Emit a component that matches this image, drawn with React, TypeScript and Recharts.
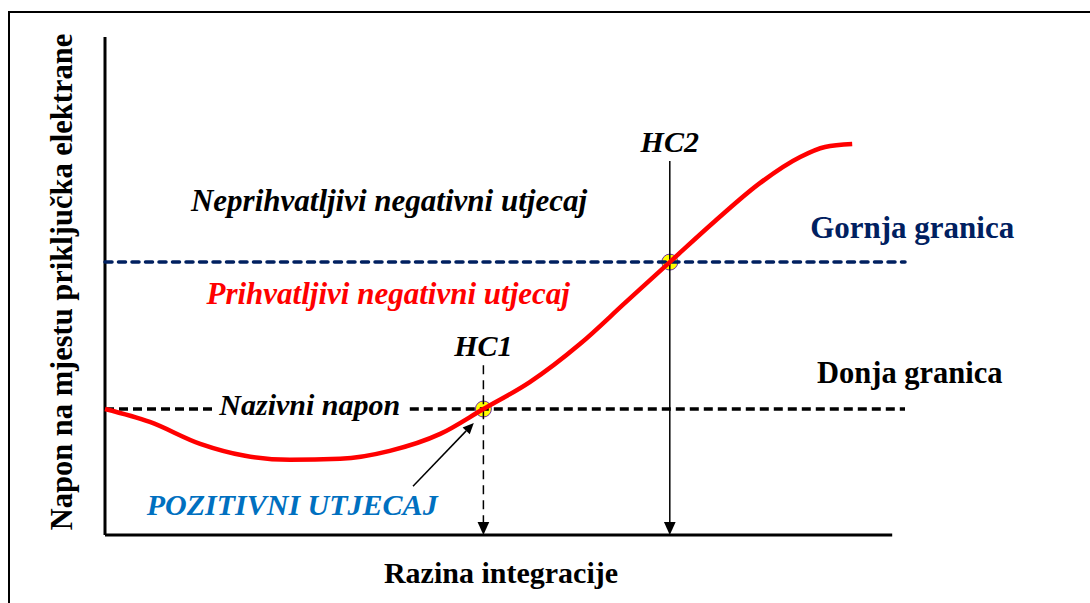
import { LineChart, Line, XAxis, YAxis, ReferenceLine, ReferenceDot } from "recharts";

// red curve: voltage at the connection point vs. integration level (arbitrary units)
const integrationLevel = [0, 5.6, 11.9, 17.5, 23.1, 29.4, 35.6, 41.9, 47.3, 53.1, 59.4, 65, 70.6, 76.3, 81.9, 86.9, 90, 93.4];
const voltage = [25.3, 22.7, 18.3, 15.9, 15.1, 15.3, 16.9, 20.3, 25.3, 30.7, 38.4, 46.6, 54.8, 63.1, 70.7, 75.9, 77.9, 78.5];

const NOMINAL = 25.3;
const UPPER = 54.8;
const HC1 = 47.3;
const HC2 = 70.6;

const data = integrationLevel.map((x, i) => ({ x, v: voltage[i] }));

const FONT = "Liberation Serif, Times New Roman, serif";
const NAVY = "#002060";

function arrow(head: number) {
  return (p: any) => {
    const { x1, y1, x2, y2, stroke, strokeWidth, strokeDasharray } = p;
    const a = Math.atan2(y2 - y1, x2 - x1);
    const bx = x2 - head * Math.cos(a);
    const by = y2 - head * Math.sin(a);
    const w = head * 0.45;
    const px = -Math.sin(a) * w;
    const py = Math.cos(a) * w;
    return (
      <g>
        <line x1={x1} y1={y1} x2={bx} y2={by} stroke={stroke} strokeWidth={strokeWidth} strokeDasharray={strokeDasharray} />
        <polygon points={`${x2},${y2} ${bx + px},${by + py} ${bx - px},${by - py}`} fill={stroke} />
      </g>
    );
  };
}

function note(key: string, x: number, y: number, text: string, color = "#000", italic = true, size = 30, rotate = false) {
  return (
    <ReferenceDot
      key={key}
      x={x}
      y={y}
      r={0}
      ifOverflow="visible"
      shape={(p: any) => (
        <text
          x={p.cx}
          y={p.cy}
          textAnchor="middle"
          fill={color}
          style={{ fontFamily: FONT, fontWeight: "bold", fontStyle: italic ? "italic" : "normal", fontSize: size }}
          transform={rotate ? `rotate(-90 ${p.cx} ${p.cy})` : undefined}
        >
          {text}
        </text>
      )}
    />
  );
}

export default function App() {
  return (
    <div style={{ position: "absolute", left: 0, top: 0, width: 1090, height: 603, overflow: "hidden", background: "#fff", fontFamily: FONT }}>
      <div style={{ position: "absolute", left: 8, top: 11, width: 1120, height: 640, border: "2px solid #000" }} />
      <div style={{ position: "absolute", left: 0, top: 0 }}>
        <LineChart width={1090} height={603} data={data} margin={{ top: 37, right: 185, bottom: 68, left: 105 }}>
          <XAxis type="number" dataKey="x" domain={[0, 100]} hide />
          <YAxis type="number" domain={[0, 100]} hide />

          <ReferenceDot x={HC1} y={NOMINAL} r={8} fill="#ffff00" stroke="#7030a0" strokeWidth={1} ifOverflow="visible" zIndex={-50} />
          <ReferenceDot x={HC2} y={UPPER} r={8} fill="#ffff00" stroke="#7030a0" strokeWidth={1} ifOverflow="visible" zIndex={-50} />

          <ReferenceLine segment={[{ x: 0, y: 0 }, { x: 0, y: 100 }]} stroke="#000" strokeWidth={3} ifOverflow="visible" />
          <ReferenceLine segment={[{ x: 0, y: 0 }, { x: 98.4, y: 0 }]} stroke="#000" strokeWidth={3} ifOverflow="visible" />

          <ReferenceLine segment={[{ x: 0, y: UPPER }, { x: 100, y: UPPER }]} stroke={NAVY} strokeWidth={3.5} strokeDasharray="7 6.5" strokeLinecap="round" ifOverflow="visible" />
          <ReferenceLine segment={[{ x: 0, y: NOMINAL }, { x: 13.4, y: NOMINAL }]} stroke="#000" strokeWidth={3.5} strokeDasharray="9 5" ifOverflow="visible" />
          <ReferenceLine segment={[{ x: 38.1, y: NOMINAL }, { x: 100, y: NOMINAL }]} stroke="#000" strokeWidth={3.5} strokeDasharray="9 5" ifOverflow="visible" />

          <ReferenceLine segment={[{ x: HC1, y: 34.1 }, { x: HC1, y: 0 }]} stroke="#000" strokeWidth={1.5} strokeDasharray="9 6" shape={arrow(13)} ifOverflow="visible" />
          <ReferenceLine segment={[{ x: HC2, y: 75.1 }, { x: HC2, y: 0 }]} stroke="#000" strokeWidth={1.5} shape={arrow(13)} ifOverflow="visible" />
          <ReferenceLine segment={[{ x: 38.5, y: 9.8 }, { x: 46.1, y: 22.5 }]} stroke="#000" strokeWidth={1.5} shape={arrow(11)} ifOverflow="visible" />

          <Line type="monotone" dataKey="v" stroke="#ff0000" strokeWidth={4.5} dot={false} isAnimationActive={false} />

          {note("n1", 35.5, 65.1, "Neprihvatljivi negativni utjecaj", "#000", true, 31)}
          {note("n2", 100.9, 59.6, "Gornja granica", NAVY, false, 31)}
          {note("n3", 35.4, 46.4, "Prihvatljivi negativni utjecaj", "#ff0000", true, 31)}
          {note("n4", HC1, 35.9, "HC1")}
          {note("n5", HC2, 76.9, "HC2")}
          {note("n6", 100.6, 30.5, "Donja granica", "#000", false, 30.5)}
          {note("n7", 25.6, 24.1, "Nazivni napon")}
          {note("n8", 23.4, 4.0, "POZITIVNI UTJECAJ", "#0070c0")}
          {note("n9", 49.5, -9.6, "Razina integracije", "#000", false)}
          {note("n10", -4.1, 50.8, "Napon na mjestu priključka elektrane", "#000", false, 30.5, true)}
        </LineChart>
      </div>
    </div>
  );
}
